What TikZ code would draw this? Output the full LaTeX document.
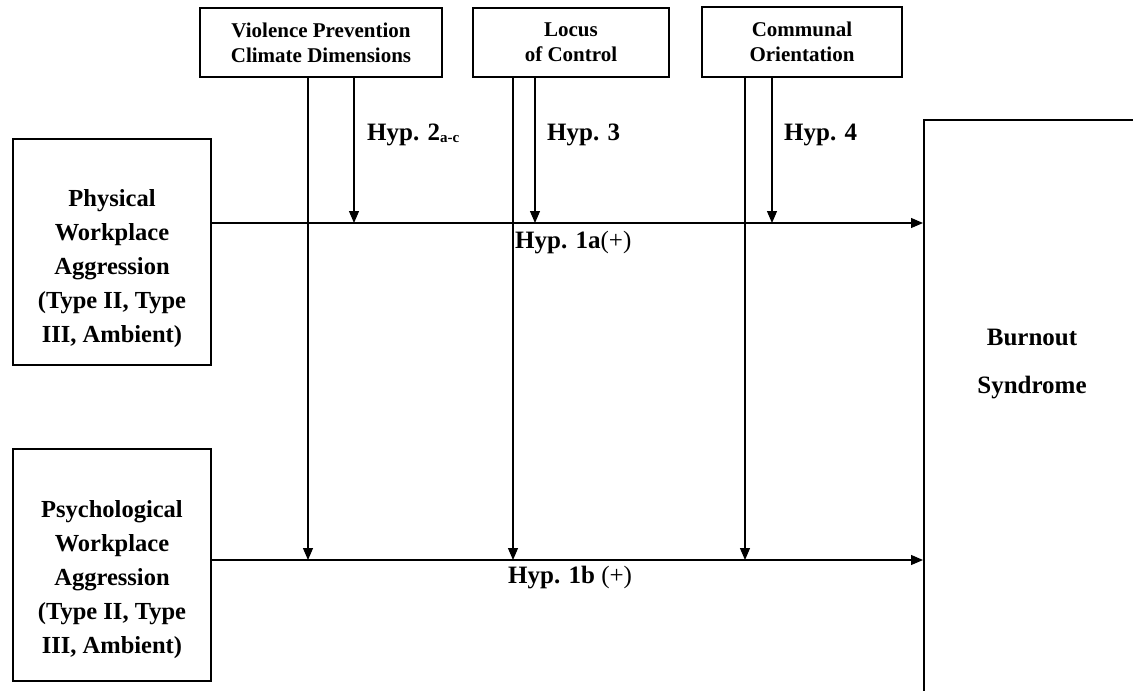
\documentclass[tikz,border=0pt]{standalone}
\usepackage{fontspec}
\setmainfont{Liberation Serif}
\usetikzlibrary{arrows.meta}
\begin{document}
\begin{tikzpicture}[x=1pt,y=-1pt,
  boxline/.style={draw, line width=1.3pt, inner sep=0pt},
  topbox/.style={boxline, align=center, font=\bfseries\fontsize{21}{25}\selectfont},
  sidetext/.style={align=center, inner sep=0pt, font=\bfseries\fontsize{24.5}{34}\selectfont},
  bigtext/.style={align=center, inner sep=0pt, font=\bfseries\fontsize{25}{48}\selectfont},
  lbl/.style={anchor=base west, inner sep=0pt, font=\bfseries\fontsize{25}{30}\selectfont},
  arr/.style={line width=1.2pt, -{Triangle[length=12pt,width=10pt]}}]
\useasboundingbox (0,0) rectangle (1133,691);
\fill[white] (0,0) rectangle (1133,691);

% top moderator boxes
\node[topbox, minimum width=242pt, minimum height=69pt] (vpc) at (321,42.5) {Violence Prevention\\Climate Dimensions};
\node[topbox, minimum width=196pt, minimum height=69pt] (loc) at (571,42.5) {Locus\\of Control};
\node[topbox, minimum width=200pt, minimum height=70pt] (com) at (802,42) {Communal\\Orientation};

% left predictor boxes
\node[boxline, minimum width=198pt, minimum height=226pt] (phys) at (112,252) {};
\node[sidetext] (physt) at (112,268.5) {Physical\\Workplace\\Aggression\\(Type II, Type\\III, Ambient)};
\node[boxline, minimum width=198pt, minimum height=232pt] (psy) at (112,565) {};
\node[sidetext] (psyt) at (112,580) {Psychological\\Workplace\\Aggression\\(Type II, Type\\III, Ambient)};

% outcome box (runs past the right and bottom edges)
\node[boxline, line width=1.6pt, minimum width=218pt, minimum height=700pt, anchor=north west] (burn) at (923,119) {};
\node[bigtext] (burnt) at (1032,364) {Burnout\\Syndrome};

% levels of the two main paths
\coordinate (l1) at (0,223);
\coordinate (l2) at (0,560);

% main paths
\draw[arr] (phys.east |- l1) -- (burn.west |- l1);
\draw[arr] (psy.east |- l2) -- (burn.west |- l2);

% moderator arrows onto path 1
\coordinate (a1) at (354,223);
\coordinate (a2) at (535,223);
\coordinate (a3) at (772,223);
\draw[arr] (vpc.south -| a1) -- (a1);
\draw[arr] (loc.south -| a2) -- (a2);
\draw[arr] (com.south -| a3) -- (a3);

% moderator arrows onto path 2
\coordinate (b1) at (308,560);
\coordinate (b2) at (513,560);
\coordinate (b3) at (745,560);
\draw[arr] (vpc.south -| b1) -- (b1);
\draw[arr] (loc.south -| b2) -- (b2);
\draw[arr] (com.south -| b3) -- (b3);

% labels
\node[lbl] (h2) at (367,140) {Hyp. 2{\fontsize{15}{15}\selectfont\raisebox{-2pt}{a-c}}};
\node[lbl] (h3) at (547,140) {Hyp. 3};
\node[lbl] (h4) at (784,140) {Hyp. 4};
\node[lbl] (h1a) at (515,248) {Hyp. 1a\textmd{(+)}};
\node[lbl] (h1b) at (508,583) {Hyp. 1b \textmd{(+)}};
\end{tikzpicture}
\end{document}
